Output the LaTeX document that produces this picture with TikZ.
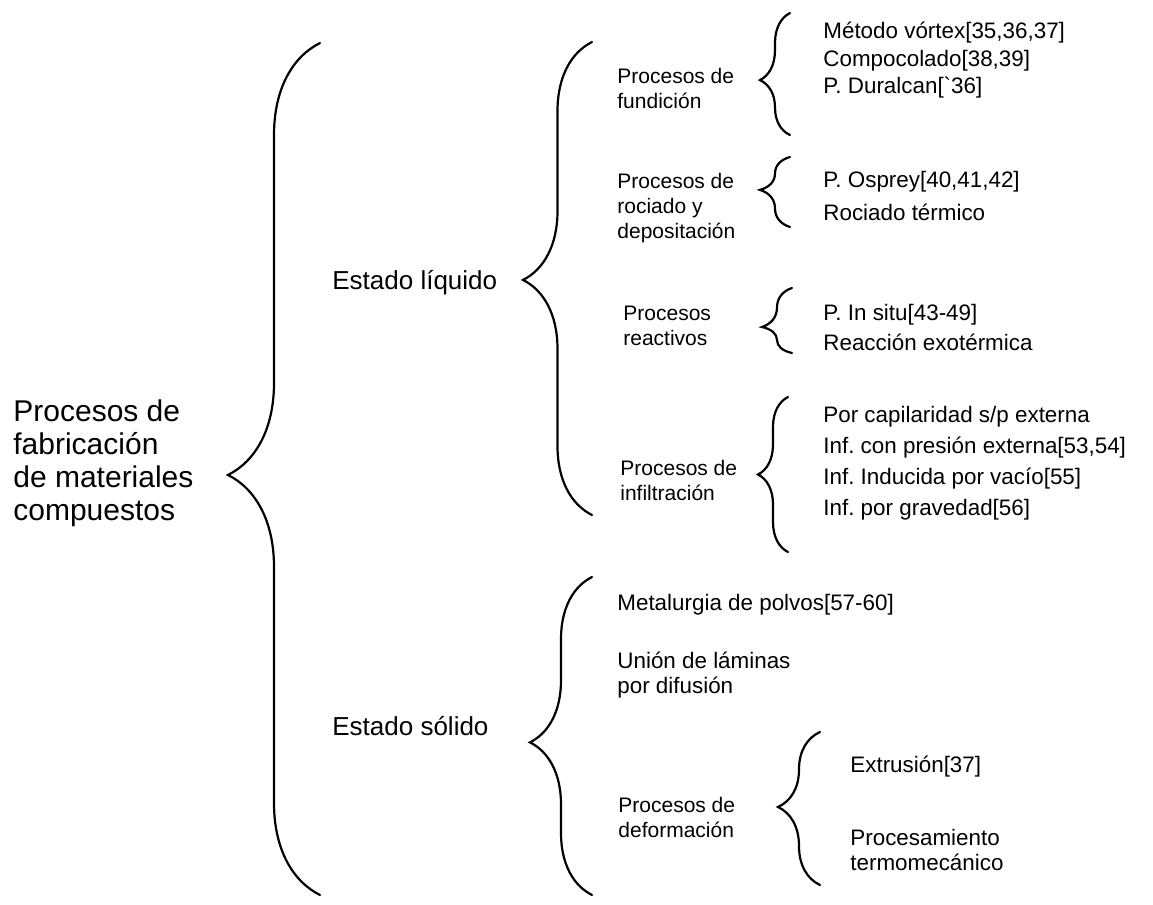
\documentclass[tikz,border=0pt]{standalone}
\usepackage{fontspec}
\setmainfont{Liberation Sans}
\usetikzlibrary{decorations.pathreplacing}

\begin{document}
\frenchspacing
\begin{tikzpicture}[
       x=0.5pt, y=-0.5pt,
       title/.style={anchor=west, align=left, inner sep=0pt, font=\fontsize{15}{16.5}\selectfont},
       state/.style={anchor=west, inner sep=0pt, font=\fontsize{13}{15}\selectfont},
       group/.style={anchor=west, align=left, inner sep=0pt, font=\fontsize{10.5}{12.5}\selectfont},
       item/.style={anchor=west, align=left, inner sep=0pt, font=\fontsize{11.2}{12.5}\selectfont},
       curly/.style 2 args={decorate, decoration={brace, amplitude=#1, aspect=#2}, line width=1.1pt, line cap=round}
   ]
   \useasboundingbox (0,0) rectangle (1153,905);

   \node[title] (proc) at (13,463) {Procesos de\\fabricación\\de materiales\\compuestos};
   \node[state] (liq) at (332,283) {Estado líquido};
   \node[state] (sol) at (332,726) {Estado sólido};

   \node[group] (fund) at (617,88) {Procesos de\\fundición};
   \node[group] (roc) at (617,208) {Procesos de\\rociado y\\depositación};
   \node[group] (reac) at (623,326) {Procesos\\reactivos};
   \node[group] (infil) at (620,480) {Procesos de\\infiltración};

   \node[item] (vortex) at (823,33) {Método vórtex[35,36,37]};
   \node[item] (compo) at (823,61) {Compocolado[38,39]};
   \node[item] (dural) at (823,88) {P. Duralcan[\textasciigrave36]};
   \node[item] (osprey) at (823,182) {P. Osprey[40,41,42]};
   \node[item] (termico) at (823,212) {Rociado térmico};
   \node[item] (insitu) at (823,315) {P. In situ[43-49]};
   \node[item] (exo) at (823,342) {Reacción exotérmica};
   \node[item] (capil) at (823,417) {Por capilaridad s/p externa};
   \node[item] (presion) at (823,448) {Inf. con presión externa[53,54]};
   \node[item] (vacio) at (823,479) {Inf. Inducida por vacío[55]};
   \node[item] (grav) at (823,510) {Inf. por gravedad[56]};

   \node[item] (polvos) at (617,605) {Metalurgia de polvos[57-60]};
   \node[item] (union) at (617,675) {Unión de láminas\\por difusión};
   \node[group] (deform) at (618,817) {Procesos de\\deformación};
   \node[item] (extr) at (850,767) {Extrusión[37]};
   \node[item] (termo) at (850,850) {Procesamiento\\termomecánico};

   \coordinate (proc-bot) at (320,895);   \coordinate (proc-top) at (320,43);
   \coordinate (liq-bot) at (592,515);    \coordinate (liq-top) at (592,42);
   \coordinate (sol-bot) at (592,895);    \coordinate (sol-top) at (592,577);
   \coordinate (fund-bot) at (790,135);   \coordinate (fund-top) at (790,13);
   \coordinate (roc-bot) at (790,227);    \coordinate (roc-top) at (790,157);
   \coordinate (reac-bot) at (792,353);   \coordinate (reac-top) at (792,288);
   \coordinate (infil-bot) at (788,552);  \coordinate (infil-top) at (788,397);
   \coordinate (deform-bot) at (820,885); \coordinate (deform-top) at (820,732);

   \draw[curly={46pt}{0.493}] (proc-bot) -- (proc-top);
   \draw[curly={34.5pt}{0.497}] (liq-bot) -- (liq-top);
   \draw[curly={31pt}{0.48}] (sol-bot) -- (sol-top);
   \draw[curly={15pt}{0.45}] (fund-bot) -- (fund-top);
   \draw[curly={15pt}{0.53}] (roc-bot) -- (roc-top);
   \draw[curly={15pt}{0.4}] (reac-bot) -- (reac-top);
   \draw[curly={15pt}{0.5}] (infil-bot) -- (infil-top);
   \draw[curly={21pt}{0.51}] (deform-bot) -- (deform-top);
   \end{tikzpicture}
\end{document}
